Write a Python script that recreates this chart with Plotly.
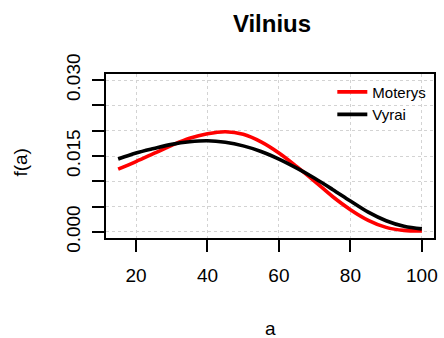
import plotly.graph_objects as go

a = [15, 20, 25, 30, 35, 40, 45, 50, 55, 60, 65, 70, 75, 80, 85, 90, 95, 100]
moterys = [0.0124, 0.0139, 0.0155, 0.0171, 0.0185, 0.0194, 0.0198, 0.0193, 0.0178, 0.0156,
           0.0129, 0.0100, 0.0070, 0.0044, 0.0023, 0.0009, 0.0003, 0.0002]
vyrai = [0.0144, 0.0156, 0.0165, 0.0173, 0.0178, 0.0180, 0.0177, 0.0170, 0.0159, 0.0144,
         0.0126, 0.0106, 0.0084, 0.0061, 0.0039, 0.0022, 0.0011, 0.0006]

x_ticks = [20, 40, 60, 80, 100]
y_ticks = [0.000, 0.005, 0.010, 0.015, 0.020, 0.025, 0.030]
y_ticktext = ["0.000", "", "", "0.015", "", "", "0.030"]

font = "Liberation Sans, Arial, sans-serif"

fig = go.Figure()
fig.add_trace(go.Scatter(x=a, y=moterys, mode="lines", name="Moterys",
                         line=dict(color="#ff0000", width=3.6, shape="spline")))
fig.add_trace(go.Scatter(x=a, y=vyrai, mode="lines", name="Vyrai",
                         line=dict(color="#000000", width=3.6, shape="spline")))

fig.update_layout(
    width=444, height=338,
    margin=dict(l=106, r=6, t=74, b=100),
    paper_bgcolor="white", plot_bgcolor="white",
    font=dict(family=font, size=19, color="black"),
    title=dict(text="<b>Vilnius</b>", x=272 / 444, xanchor="center",
               y=1 - 24 / 338, yanchor="middle", font=dict(size=24)),
    showlegend=True,
    legend=dict(x=0.69, y=0.99, xanchor="left", yanchor="top", bgcolor="rgba(0,0,0,0)",
                font=dict(size=15), tracegroupgap=0, itemwidth=30),
)
fig.update_xaxes(range=[11.6, 103.4], tickvals=x_ticks, ticks="outside", ticklen=12, tickwidth=1.5,
                 tickcolor="black", showline=True, linecolor="black", linewidth=1.5, mirror=True,
                 showgrid=True, gridcolor="#d3d3d3", griddash="dot", gridwidth=1,
                 zeroline=False, ticklabelstandoff=7)
fig.update_yaxes(range=[-0.0012, 0.0312], tickvals=y_ticks, ticktext=y_ticktext, tickangle=-90,
                 ticks="outside", ticklen=12, tickwidth=1.5, tickcolor="black",
                 showline=True, linecolor="black", linewidth=1.5, mirror=True,
                 showgrid=True, gridcolor="#d3d3d3", griddash="dot", gridwidth=1,
                 zeroline=False, ticklabelstandoff=5)
fig.add_annotation(text="a", xref="paper", yref="paper", x=0.5, y=-90 / 164, showarrow=False,
                   xanchor="center", yanchor="middle", font=dict(size=19))
fig.add_annotation(text="f(a)", xref="paper", yref="paper", x=-86 / 332, y=0.46, showarrow=False,
                   xanchor="center", yanchor="middle", textangle=-90, font=dict(size=19))

fig.write_html("out.html")
